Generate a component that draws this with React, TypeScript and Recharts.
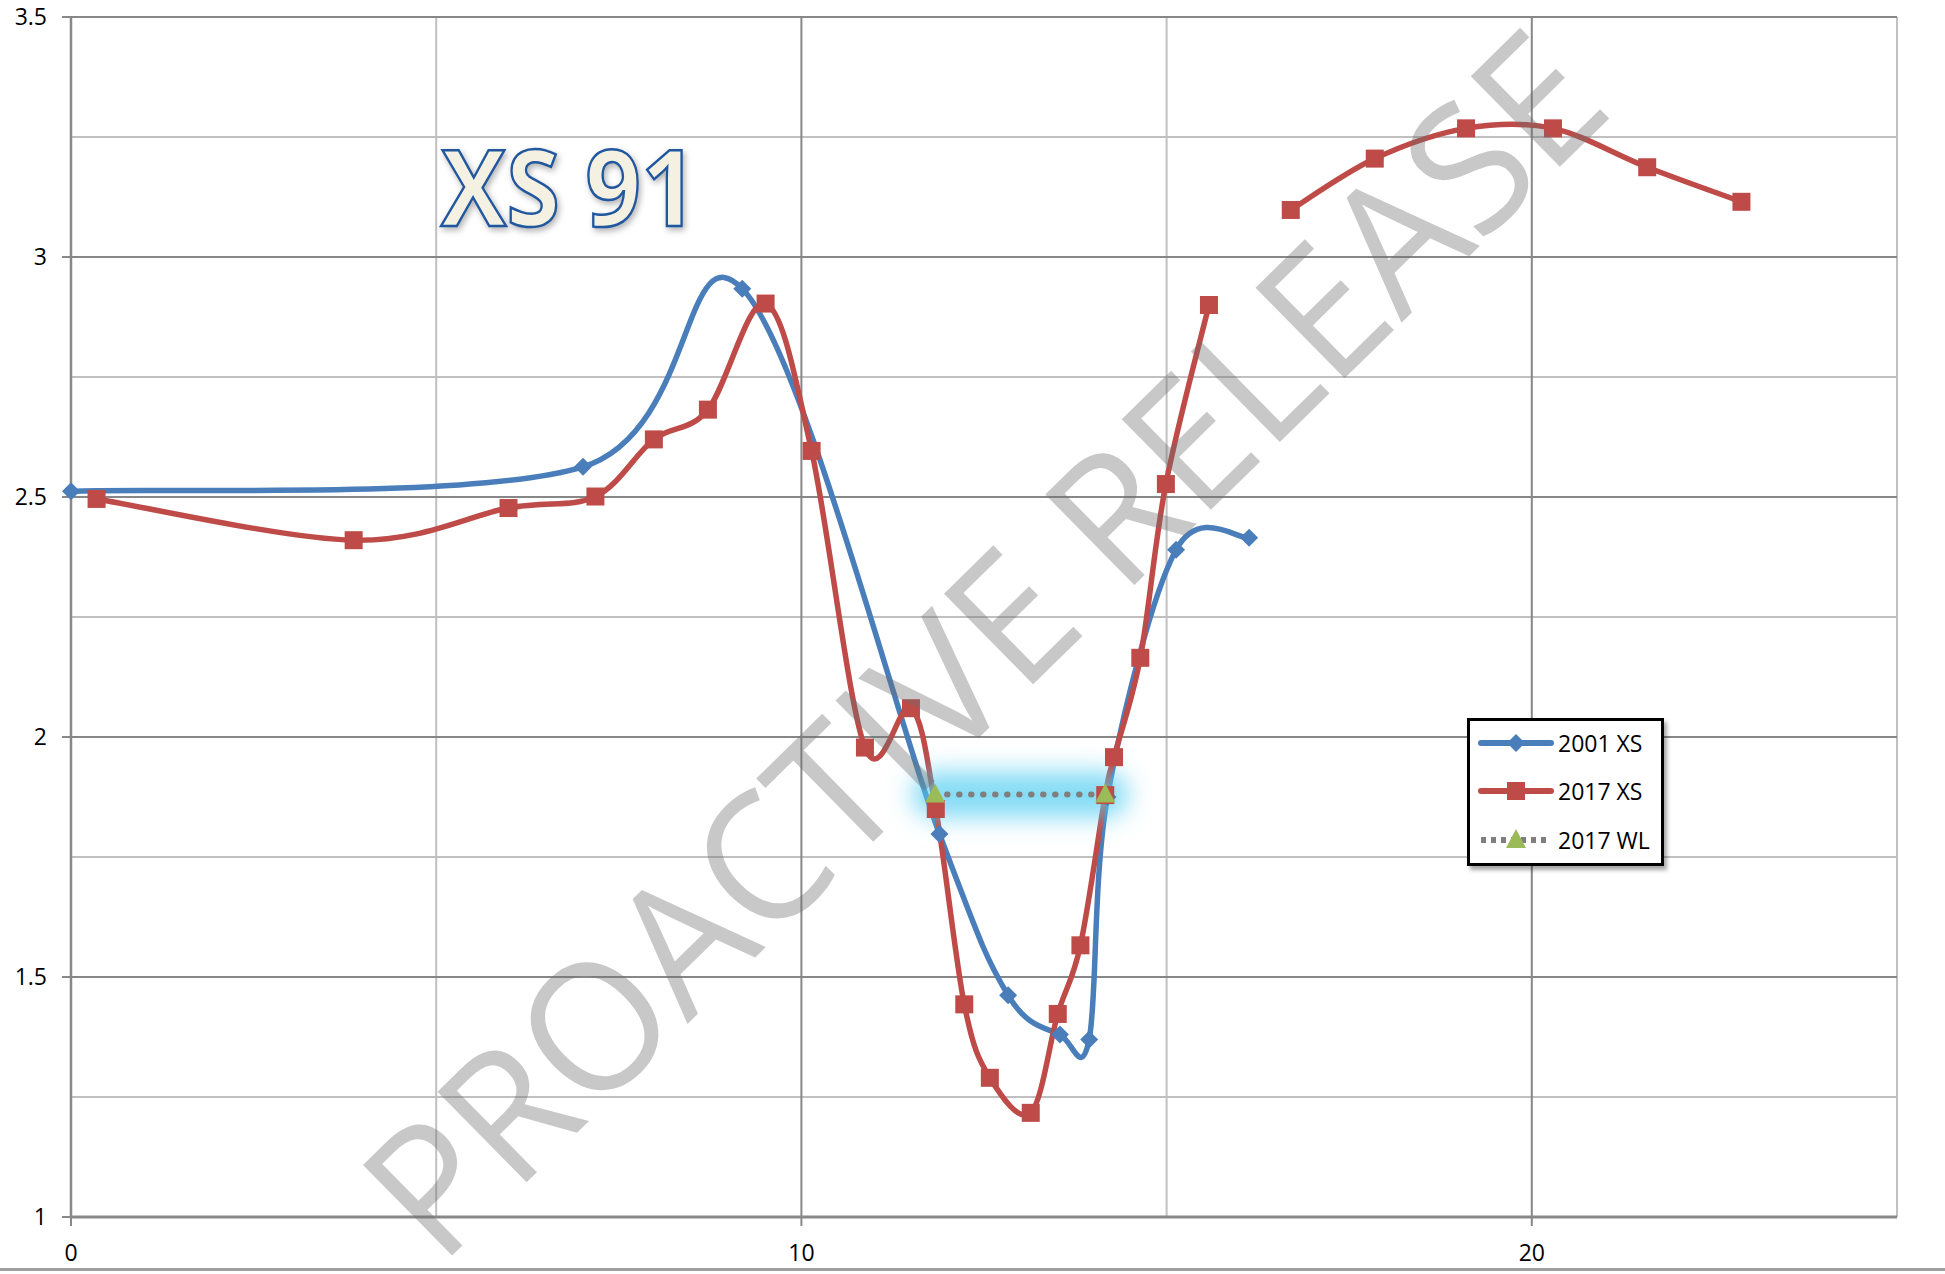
import React from "react";
import { LineChart, Line, XAxis, YAxis, CartesianGrid } from "recharts";

// 2001 cross-section
const xs2001X = [0, 7.01, 9.19, 11.89, 12.83, 13.54, 13.94, 14.19, 15.13, 16.13];
const xs2001Y = [2.512, 2.563, 2.934, 1.798, 1.462, 1.38, 1.37, 1.875, 2.39, 2.415];

// 2017 cross-section (null = gap in the survey line)
const xs2017X = [
  0.35, 3.87, 5.99, 7.18, 7.98, 8.72, 9.51, 10.14, 10.87, 11.5, 11.84, 12.23, 12.58, 13.14,
  13.51, 13.82, 14.16, 14.28, 14.64, 14.99, 15.58, 16.1, 16.7, 17.85, 19.1, 20.29, 21.58, 22.87,
];
const xs2017Y = [
  2.496, 2.41, 2.477, 2.501, 2.62, 2.682, 2.903, 2.596, 1.978, 2.06, 1.85, 1.443, 1.29, 1.217,
  1.423, 1.566, 1.879, 1.958, 2.165, 2.527, 2.9, null, 3.098, 3.205, 3.268, 3.268, 3.187, 3.115,
];

// 2017 water level
const wlX = [11.83, 14.16];
const wlY = [1.88, 1.88];

const xTicks = [0, 10, 20];
const yTicks = [1, 1.5, 2, 2.5, 3, 3.5];
const xMinorGrid = [5, 15, 25];
const yMinorGrid = [1.25, 1.75, 2.25, 2.75, 3.25];

const BLUE = "#4a7ebb";
const RED = "#be4b48";
const GREEN = "#9bbb59";
const FONT = "'Open Sans', 'Liberation Sans', sans-serif";

const toPoints = (xs: number[], ys: (number | null)[]) => xs.map((x, i) => ({ x, y: ys[i] }));

const data2001 = toPoints(xs2001X, xs2001Y);
const data2017 = toPoints(xs2017X, xs2017Y);
const dataWL = toPoints(wlX, wlY);

// Excel-like smoothing (Catmull-Rom style bezier)
const excelCurve = (context: any) => {
  let pts: number[][] = [];
  return {
    areaStart() {},
    areaEnd() {},
    lineStart() {
      pts = [];
    },
    point(x: number, y: number) {
      pts.push([+x, +y]);
    },
    lineEnd() {
      const n = pts.length;
      if (!n) return;
      context.moveTo(pts[0][0], pts[0][1]);
      for (let i = 0; i < n - 1; i++) {
        const p0 = pts[Math.max(0, i - 1)];
        const p1 = pts[i];
        const p2 = pts[i + 1];
        const p3 = pts[Math.min(n - 1, i + 2)];
        context.bezierCurveTo(
          p1[0] + (p2[0] - p0[0]) / 6,
          p1[1] + (p2[1] - p0[1]) / 6,
          p2[0] - (p3[0] - p1[0]) / 6,
          p2[1] - (p3[1] - p1[1]) / 6,
          p2[0],
          p2[1]
        );
      }
    },
  };
};

const isEmpty = (p: any) => p.cx == null || p.cy == null || !p.payload || p.payload.y == null;

const diamondDot = (p: any) => {
  if (isEmpty(p)) return <g key={`b${p.index}`} />;
  const r = 9;
  return (
    <path
      key={`b${p.index}`}
      d={`M${p.cx},${p.cy - r}L${p.cx + r},${p.cy}L${p.cx},${p.cy + r}L${p.cx - r},${p.cy}Z`}
      fill={BLUE}
    />
  );
};

const squareDot = (p: any) => {
  if (isEmpty(p)) return <g key={`r${p.index}`} />;
  const s = 18;
  return <rect key={`r${p.index}`} x={p.cx - s / 2} y={p.cy - s / 2} width={s} height={s} fill={RED} />;
};

const triangleDot = (p: any) => {
  if (isEmpty(p)) return <g key={`g${p.index}`} />;
  const w = 10;
  return (
    <path
      key={`g${p.index}`}
      d={`M${p.cx},${p.cy - 11}L${p.cx + w},${p.cy + 8}L${p.cx - w},${p.cy + 8}Z`}
      fill={GREEN}
    />
  );
};

const tickStyle = { fontFamily: FONT, fontSize: 23, fill: "#000" };

const Legend = () => (
  <div
    style={{
      position: "absolute",
      left: 1467,
      top: 718,
      width: 197,
      height: 148,
      boxSizing: "border-box",
      border: "3px solid #000",
      background: "#fff",
      boxShadow: "3px 4px 4px rgba(0,0,0,0.35)",
    }}
  >
    <svg width={191} height={142} style={{ position: "absolute", left: 0, top: 0 }}>
      <g fontFamily={FONT} fontSize={23} fill="#000">
        <line x1={11} x2={81} y1={22} y2={22} stroke={BLUE} strokeWidth={6} strokeLinecap="round" />
        <path d="M46,13L55,22L46,31L37,22Z" fill={BLUE} />
        <text x={88} y={22} dominantBaseline="central">2001 XS</text>

        <line x1={11} x2={81} y1={70} y2={70} stroke={RED} strokeWidth={6} strokeLinecap="round" />
        <rect x={37} y={61} width={18} height={18} fill={RED} />
        <text x={88} y={70} dominantBaseline="central">2017 XS</text>

        <line x1={11} x2={81} y1={119} y2={119} stroke="#7f7f7f" strokeWidth={6} strokeDasharray="5 5" />
        <path d="M46,108L56,127L36,127Z" fill={GREEN} />
        <text x={88} y={119} dominantBaseline="central">2017 WL</text>
      </g>
    </svg>
  </div>
);

export default function App() {
  return (
    <div
      style={{
        position: "absolute",
        left: 0,
        top: 0,
        width: 1945,
        height: 1274,
        background: "#fff",
        overflow: "hidden",
      }}
    >
      <style>{`.wl-glow path { filter: url(#wlGlow); stroke-linecap: round; }`}</style>
      <LineChart width={1945} height={1274} margin={{ top: 17, right: 48, left: 0, bottom: 0 }}>
        <defs>
          <filter id="wlGlow" filterUnits="userSpaceOnUse" x="0" y="0" width="1945" height="1274">
            <feGaussianBlur stdDeviation="12" />
          </filter>
        </defs>
        <CartesianGrid
          horizontalValues={yMinorGrid}
          verticalValues={xMinorGrid}
          stroke="#c0c0c0"
          strokeWidth={2}
        />
        <CartesianGrid horizontalValues={yTicks} verticalValues={xTicks} stroke="#878787" strokeWidth={2} />
        <XAxis
          type="number"
          dataKey="x"
          domain={[0, 25]}
          ticks={xTicks}
          height={57}
          tick={tickStyle}
          tickSize={9}
          tickMargin={19}
          axisLine={{ stroke: "#888", strokeWidth: 3 }}
          tickLine={{ stroke: "#888", strokeWidth: 2 }}
        />
        <YAxis
          type="number"
          dataKey="y"
          domain={[1, 3.5]}
          ticks={yTicks}
          width={71}
          tick={tickStyle}
          tickSize={9}
          tickMargin={15}
          axisLine={{ stroke: "#888", strokeWidth: 2.5 }}
          tickLine={{ stroke: "#888", strokeWidth: 2 }}
        />
        <Line
          data={data2001}
          dataKey="y"
          type={excelCurve as any}
          stroke={BLUE}
          strokeWidth={5.5}
          dot={diamondDot}
          activeDot={false}
          isAnimationActive={false}
        />
        <Line
          data={data2017}
          dataKey="y"
          type={excelCurve as any}
          stroke={RED}
          strokeWidth={5.5}
          dot={squareDot}
          activeDot={false}
          isAnimationActive={false}
        />
        <Line
          data={dataWL}
          dataKey="y"
          className="wl-glow"
          type="linear"
          stroke="#4fcdf2"
          strokeOpacity={0.7}
          strokeWidth={46}
          strokeLinecap="round"
          dot={false}
          activeDot={false}
          isAnimationActive={false}
        />
        <Line
          data={dataWL}
          dataKey="y"
          type="linear"
          stroke="#7f7f7f"
          strokeWidth={6}
          strokeDasharray="0.5 11.5"
          strokeLinecap="round"
          dot={triangleDot}
          activeDot={false}
          isAnimationActive={false}
        />
      </LineChart>

      <svg width={1945} height={1274} style={{ position: "absolute", left: 0, top: 0, pointerEvents: "none" }}>
        <text
          x={441}
          y={226}
          fontFamily={FONT}
          fontSize={106}
          fontWeight={700}
          textLength={256}
          lengthAdjust="spacingAndGlyphs"
          fill="#f4f1e3"
          stroke="#21579f"
          strokeWidth={2.5}
          style={{ filter: "drop-shadow(2px 3px 3px rgba(0,0,0,0.3))" }}
        >
          XS 91
        </text>
        <text
          x={980}
          y={640}
          transform="rotate(-44.5 980 640)"
          textAnchor="middle"
          dominantBaseline="central"
          fontFamily={FONT}
          fontSize={178}
          textLength={1650}
          lengthAdjust="spacingAndGlyphs"
          fill="rgba(110,110,110,0.38)"
        >
          PROACTIVE RELEASE
        </text>
      </svg>

      <Legend />

      <div
        style={{ position: "absolute", left: 0, top: 1268, width: 1945, height: 3, background: "#a0a0a0" }}
      />
    </div>
  );
}
